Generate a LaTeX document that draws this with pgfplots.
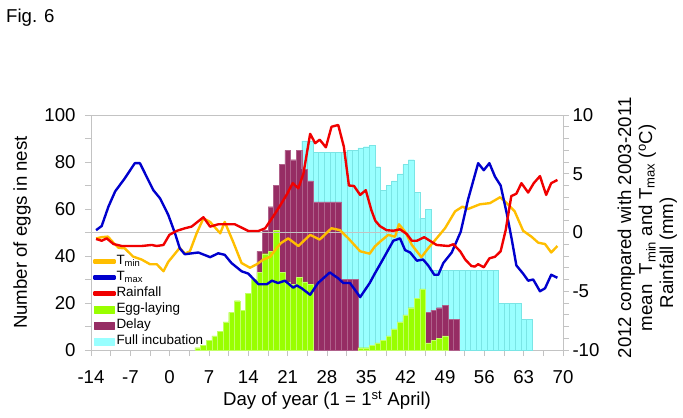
\documentclass[border=0pt]{standalone}
\usepackage{pgfplots}
\pgfplotsset{compat=1.18}
\usepackage{fontspec}
\setmainfont{Liberation Sans}
\definecolor{cTmin}{RGB}{255,190,0}
\definecolor{cTmax}{RGB}{0,0,205}
\definecolor{cRain}{RGB}{240,0,0}
\definecolor{cEgg}{RGB}{153,255,0}
\definecolor{cDelay}{RGB}{150,45,100}
\definecolor{cFull}{RGB}{153,255,255}
\definecolor{axgray}{RGB}{195,195,195}
\newcommand\fs{\fontsize{18.7}{21}\selectfont}
\begin{document}
\begin{tikzpicture}
\path[use as bounding box] (0,0) rectangle (683bp,-418bp);
\node[anchor=base west, inner sep=0pt, font=\fs] at (6bp,-22bp) {Fig. 6};
\begin{axis}[
  at={(91bp,-350bp)}, anchor=south west,
  width=472bp, height=235bp, scale only axis,
  xmin=-14, xmax=70, ymin=0, ymax=100,
  xtick={-14,-7,...,70}, minor x tick num=1,
  ytick={0,20,...,100}, minor y tick num=1,
  xtick pos=bottom, ytick pos=left,
  tick align=outside,
  major tick length=6bp, minor tick length=6bp,
  every tick/.style={axgray, line width=0.8pt},
  axis line style={axgray, line width=0.8pt},
  /pgf/number format/assume math mode=true,
  tick label style={font=\fs, black},
  xticklabel style={yshift=-11bp},
  yticklabel style={xshift=-6bp},
  xlabel={Day of year (1 = 1\textsuperscript{st} April)},
  xlabel style={font=\fs, at={(axis description cs:0.5,-0.215)}, anchor=center},
  ylabel={Number of eggs in nest},
  ylabel style={font=\fs, at={(axis description cs:-0.146,0.5)}, anchor=center},
]
% Full incubation
\addplot[ybar, bar width=1, bar shift=0pt, fill=cFull, draw=cFull!80!teal, line width=0.3pt] coordinates {
(24,89) (25,89) (26,84) (27,84) (28,84) (29,84) (30,84) (31,84) (32,85) (33,85)
(34,86) (35,86.5) (36,87) (37,78) (38,68) (39,70) (40,72) (41,75) (42,79) (43,81)
(44,67) (45,56) (46,60) (47,34) (48,34) (49,34) (50,34) (51,34) (52,34) (53,34)
(54,34) (55,34) (56,34) (57,34) (58,34) (59,20) (60,20) (61,20) (62,20) (63,13) (64,13)
};
% Delay
\addplot[ybar, bar width=1, bar shift=0pt, fill=cDelay, draw=cDelay!75!white, line width=0.3pt] coordinates {
(16,42) (17,51) (18,61) (19,70) (20,79) (21,85) (22,81) (23,85) (24,77) (25,72)
(26,63) (27,63) (28,63) (29,63) (30,63) (31,30) (32,30) (33,30)
(46,16) (47,17) (48,18) (49,19) (50,13) (51,13)
};
% Egg-laying
\addplot[ybar, bar width=1, bar shift=0pt, fill=cEgg, draw=cEgg!60!white, line width=0.3pt] coordinates {
(5,1) (6,2) (7,4) (8,6) (9,8) (10,12) (11,16) (12,21) (13,17) (14,24) (15,30)
(16,33) (17,41) (18,42) (19,51) (20,33) (21,29) (22,28) (23,31) (24,29) (25,28)
(34,1) (35,1) (36,2) (37,3) (38,4) (39,6) (40,9) (41,12) (42,15) (43,18) (44,22) (45,26)
(46,3) (47,4) (48,5) (49,6)
};
\addplot[axgray, line width=0.8pt] coordinates {(-14,50) (70,50)};
\end{axis}
\begin{axis}[
  at={(91bp,-350bp)}, anchor=south west,
  width=472bp, height=235bp, scale only axis,
  xmin=-14, xmax=70, ymin=-10, ymax=10,
  axis x line=none, axis y line*=right,
  ytick={-10,-5,...,10}, minor y tick num=4,
  tick align=outside,
  major tick length=6bp, minor tick length=6bp,
  every tick/.style={axgray, line width=0.8pt},
  axis line style={-, axgray, line width=0.8pt},
  /pgf/number format/assume math mode=true,
  tick label style={font=\fs, black},
  ylabel={\begin{tabular}{@{}c@{}}2012 compared with 2003-2011\\mean\ \ T\textsubscript{min} and T\textsubscript{max} (\textsuperscript{o}C)\\Rainfall (mm)\hspace*{50bp}\end{tabular}},
  ylabel style={font=\fs, at={(axis description cs:1.18,0.52)}, anchor=center},
  legend style={at={(axis description cs:0.002,0.0)}, anchor=south west, draw=none, fill=none,
    font=\fontsize{13.5}{15}\selectfont, row sep=1.2bp, inner sep=1pt,
    nodes={inner sep=1pt, text height=9.5bp, text depth=3.3bp}},
  legend cell align=left,
  legend image code/.code={\fill[#1] (0bp,-1.3bp) rectangle (20bp,1.3bp);},
  line join=round,
]
\addplot[cTmin, line width=2.4pt] coordinates {
(-13.1,-0.5) (-12.1,-0.4) (-11.0,-0.35) (-10.0,-0.87) (-9.1,-1.3) (-8.0,-1.35) (-6.5,-2.05)
(-5.0,-2.3) (-3.5,-2.7) (-2.3,-2.7) (-1.1,-3.3) (-0.25,-2.5) (0.95,-1.8) (1.8,-1.3)
(2.7,-1.8) (3.6,-1.6) (4.8,-0.07) (6.0,1.2) (7.2,0.9) (9.0,-0.07) (9.8,0.9) (11.3,-0.8)
(12.8,-2.6) (14.3,-3.0) (15.5,-2.7) (16.7,-2.3) (17.9,-2.06) (19.0,-1.35) (19.8,-0.9)
(21.1,-0.5) (22.9,-1.15) (25.0,-0.2) (26.7,-0.6) (28.8,0.36) (30.3,0.2) (31.8,-0.5)
(33.9,-1.6) (35.6,-1.8) (36.5,-1.2) (37.4,-0.8) (38.9,-0.2) (40.1,-0.36) (40.8,0.7)
(41.9,0.07) (43.1,-1.06) (44.8,-2.1) (46.0,-1.35) (47.5,-0.5) (49.0,0.36) (50.8,1.8)
(52.1,2.2) (53.1,2.0) (55.2,2.4) (57.0,2.5) (58.8,3.0) (60.0,2.5) (61.4,1.8) (62.9,0.15)
(64.4,-0.36) (65.6,-0.87) (66.8,-0.98) (67.9,-1.7) (69.0,-1.15)
};
\addlegendentry{T\textsubscript{min}}
\addplot[cTmax, line width=2.4pt] coordinates {
(-13.1,0.2) (-12.1,0.55) (-10.9,2.2) (-9.7,3.5) (-8,4.6) (-6.2,5.9) (-5.3,5.9) (-4.1,4.75)
(-2.9,3.6) (-1.7,2.9) (-0.25,1.5) (0.95,-0.07) (1.8,-1.35) (2.7,-1.85) (5.1,-1.7)
(7.2,-2.1) (8.65,-1.77) (9.8,-1.9) (11.0,-2.6) (12.8,-3.3) (14.0,-3.5) (15.8,-4.4)
(17.3,-4.4) (18.2,-4.1) (19.3,-4.3) (20.5,-4.1) (22.0,-4.7) (22.6,-4.5) (23.5,-4.75)
(25.0,-5.3) (26.4,-4.3) (28.5,-3.4) (30.0,-3.9) (30.9,-4.3) (32.1,-4.3) (33.9,-5.5)
(35.6,-4.3) (36.5,-3.5) (37.7,-2.5) (39.8,-0.7) (41.0,-0.5) (41.9,-1.5) (42.8,-1.7)
(44.0,-2.4) (45.1,-2.3) (46.0,-2.8) (47.1,-3.6) (47.8,-3.6) (48.7,-2.6) (50.2,-1.7)
(51.8,0.07) (53.1,2.8) (54.9,5.9) (55.9,5.3) (56.9,5.9) (57.9,4.75) (58.9,4.0) (60.0,1.6)
(60.9,-0.64) (61.7,-2.8) (62.9,-3.5) (63.8,-4.1) (64.7,-4.0) (65.9,-5.0) (66.8,-4.75)
(67.9,-3.6) (69.0,-3.85)
};
\addlegendentry{T\textsubscript{max}}
\addplot[cRain, line width=2.4pt] coordinates {
(-13.1,-0.55) (-12.1,-0.7) (-11.2,-0.5) (-10.0,-0.98) (-8.5,-1.15) (-6.8,-1.15) (-5.0,-1.15)
(-3.2,-1.06) (-2.3,-1.15) (-1.1,-1.06) (-0.05,-0.2) (1.2,0.13) (2.7,0.36) (3.9,0.5)
(6.0,1.3) (7.2,0.5) (8.65,0.7) (11.6,0.7) (14.0,0.13) (15.8,0.13) (17.0,0.36) (18.4,1.35)
(19.6,2.25) (20.8,3.2) (21.9,4.2) (22.9,3.76) (23.8,5.0) (25.0,8.4) (25.9,7.6) (26.7,7.9)
(27.8,7.25) (28.8,9.0) (30.0,9.15) (31.0,7.3) (31.9,4.0) (32.8,3.96) (33.9,3.2) (34.9,3.6)
(35.9,1.9) (36.6,1.0) (37.4,0.55) (38.6,0.2) (39.8,0.15) (41.0,0.27) (42.2,-0.13)
(43.1,-0.7) (44.0,-0.7) (45.3,-0.4) (46.3,-0.7) (47.5,-1.06) (49.6,-1.15) (50.5,-1.0)
(51.7,-1.6) (52.6,-2.3) (53.7,-2.85) (54.3,-2.9) (54.9,-2.7) (55.9,-2.96) (56.9,-2.2)
(57.9,-2.06) (58.9,-1.6) (59.8,0.2) (60.8,3.1) (61.7,3.3) (62.6,4.2) (63.8,3.4)
(64.8,4.2) (65.9,4.8) (67.0,3.2) (67.9,4.2) (69.0,4.47)
};
\addlegendentry{Rainfall}
\addlegendimage{legend image code/.code={\fill[cEgg] (0bp,-3.5bp) rectangle (20bp,3.5bp);}}
\addlegendentry{Egg-laying}
\addlegendimage{legend image code/.code={\fill[cDelay] (0bp,-3.5bp) rectangle (20bp,3.5bp);}}
\addlegendentry{Delay}
\addlegendimage{legend image code/.code={\fill[cFull] (0bp,-3.5bp) rectangle (20bp,3.5bp);}}
\addlegendentry{Full incubation}
\end{axis}
\end{tikzpicture}
\end{document}
